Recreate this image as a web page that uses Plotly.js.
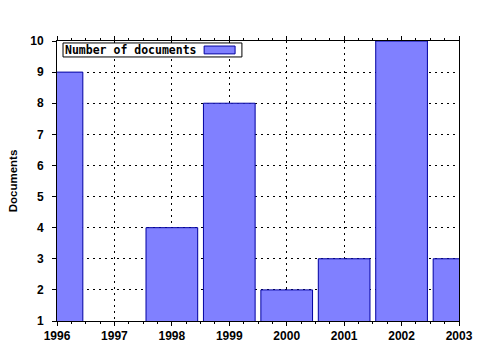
<!DOCTYPE html>
<html>
<head>
<meta charset="utf-8">
<script src="https://cdn.plot.ly/plotly-3.0.1.min.js"></script>
<style>html,body{margin:0;padding:0;background:#fff;}#chart{width:480px;height:350px;}</style>
</head>
<body>
<div id="chart"></div>
<script>
const years = [1996, 1997, 1998, 1999, 2000, 2001, 2002, 2003];
const documents = [9, 0, 4, 8, 2, 3, 10, 3];
const seriesName = 'Number of documents';
const yTicks = [1, 2, 3, 4, 5, 6, 7, 8, 9, 10];

const tickFont = {family: 'Liberation Sans, Arial, sans-serif', size: 12, color: '#000', weight: 'bold'};

const trace = {
  type: 'bar',
  x: years,
  y: documents,
  width: 0.9,
  name: seriesName,
  marker: {color: '#8080ff', line: {color: '#0000a0', width: 1}},
  showlegend: false,
  hoverinfo: 'x+y'
};

const layout = {
  width: 480, height: 350,
  margin: {l: 57, r: 21, t: 41, b: 29},
  paper_bgcolor: '#fff', plot_bgcolor: '#fff',
  font: {family: 'Liberation Sans, Arial, sans-serif', size: 11, color: '#000'},
  showlegend: false,
  xaxis: {
    range: [1996, 2003], tickvals: years, ticktext: years.map(String),
    tickfont: tickFont, ticks: 'outside', ticklen: 4, tickcolor: '#000',
    showline: true, linecolor: '#000', linewidth: 1, mirror: 'ticks',
    showgrid: true, gridcolor: '#000', griddash: '2px,4px', gridwidth: 1,
    zeroline: false, fixedrange: true,
    minor: {dtick: 0.25, tick0: 1996, ticks: 'outside', ticklen: 2, tickcolor: '#000', showgrid: false}
  },
  yaxis: {
    range: [1, 10], tickvals: yTicks, tickfont: tickFont,
    ticks: 'outside', ticklen: 4, tickcolor: '#000', ticklabelstandoff: 6,
    showline: true, linecolor: '#000', linewidth: 1, mirror: true,
    showgrid: true, gridcolor: '#000', griddash: '2px,4px', gridwidth: 1,
    zeroline: false, fixedrange: true,
    title: {text: 'Documents', font: {family: 'Liberation Sans, Arial, sans-serif', size: 11.5, weight: 'bold'}, standoff: 10}
  },
  shapes: [
    {type: 'rect', xref: 'paper', yref: 'paper', x0: 0.015, x1: 0.460, y0: 0.943, y1: 0.993,
     fillcolor: '#fff', line: {color: '#000', width: 1}, layer: 'above'},
    {type: 'rect', xref: 'paper', yref: 'paper', x0: 0.366, x1: 0.443, y0: 0.954, y1: 0.982,
     fillcolor: '#8080ff', line: {color: '#0000a0', width: 1}, layer: 'above'}
  ],
  annotations: [
    {xref: 'paper', yref: 'paper', x: 0.014, y: 0.968, xanchor: 'left', yanchor: 'middle',
     text: seriesName, showarrow: false,
     font: {family: 'DejaVu Sans Mono, monospace', size: 11.5, color: '#000', weight: 'bold'}}
  ]
};

Plotly.newPlot('chart', [trace], layout, {displayModeBar: false, staticPlot: true});
</script>
</body>
</html>
